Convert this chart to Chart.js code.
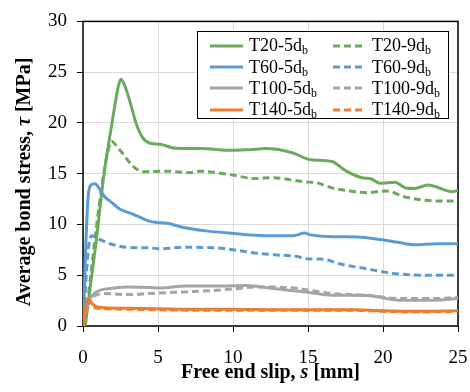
<!DOCTYPE html>
<html>
<head>
<meta charset="utf-8">
<script src="https://cdn.jsdelivr.net/npm/chart.js@4.4.1/dist/chart.umd.min.js"></script>
<style>
    html, body { margin: 0; padding: 0; background: #fff; }
    #wrap { position: relative; width: 470px; height: 392px; }
    #legend {
        position: absolute; left: 197px; top: 31px; width: 252px; height: 88px;
        border: 1.5px solid #000; background: #fff;
        font-family: 'Liberation Serif', 'Times New Roman', serif; font-size: 18px; color: #000;
        display: grid; grid-template-columns: 123px 120px; grid-auto-rows: 21.4px;
        padding: 3px 0 0 12px; box-sizing: border-box;
    }
    #legend .item { display: flex; align-items: center; white-space: nowrap; }
    #legend svg { margin-right: 6px; }
    #legend sub { font-size: 12px; vertical-align: -3px; line-height: 0; }
</style>
</head>
<body>
<div id="wrap">
    <canvas id="bond-chart" width="470" height="392"></canvas>
    <div id="legend"></div>
</div>
<script>
// 시리즈 이름
var seriesNames = ['T20-5db', 'T20-9db', 'T60-5db', 'T60-9db', 'T100-5db', 'T100-9db', 'T140-5db', 'T140-9db'];

// 슬립 s [mm] / 부착응력 tau [MPa]
var t20_5_s   = [0.15, 0.5, 0.9, 1.36, 1.8, 2.1, 2.35, 2.53, 2.75, 3.13, 3.58, 4.0, 4.47, 5.13, 6.2, 7.8, 10, 11.1, 12.2, 14, 15.1, 16.6, 17.5, 18.6, 19.2, 19.8, 20.8, 21.5, 22.1, 23.0, 23.4, 24.6, 25];
var t20_5_tau = [0, 4.0, 8.6, 14.5, 18.8, 21.5, 23.6, 24.3, 23.8, 22.1, 19.8, 18.5, 18.0, 17.9, 17.5, 17.47, 17.3, 17.37, 17.47, 17.04, 16.4, 16.2, 15.3, 14.6, 14.5, 14.05, 14.17, 13.6, 13.55, 13.88, 13.78, 13.23, 13.36];

var t20_9_s   = [0.1, 0.5, 0.9, 1.24, 1.6, 1.91, 2.2, 2.69, 3.36, 4.0, 5.6, 7.1, 7.8, 8.9, 10, 11.4, 12.7, 14, 15, 15.6, 16.6, 17.8, 18.9, 20.2, 21.5, 22.8, 23.9, 25];
var t20_9_tau = [0, 4.8, 9.8, 13.6, 16.8, 18.2, 17.8, 16.9, 15.7, 15.2, 15.25, 15.1, 15.25, 15.1, 14.86, 14.53, 14.6, 14.37, 14.17, 14.1, 13.6, 13.3, 13.13, 13.3, 12.7, 12.38, 12.3, 12.3];

var t60_5_s   = [0.0, 0.1, 0.2, 0.36, 0.55, 0.8, 1.1, 1.4, 1.8, 2.47, 3.36, 4.47, 4.9, 5.6, 6.7, 8.5, 10, 12.2, 14, 14.8, 15.1, 16.6, 18.3, 19.9, 21, 22.1, 23.6, 25];
var t60_5_tau = [0, 4.0, 8.5, 13.0, 13.9, 14.0, 13.5, 12.8, 12.3, 11.5, 11.0, 10.3, 10.2, 10.13, 9.7, 9.32, 9.12, 8.9, 8.9, 9.15, 9.0, 8.8, 8.77, 8.5, 8.24, 8.0, 8.1, 8.1];

var t60_9_s   = [0, 0.15, 0.35, 0.58, 0.9, 1.3, 1.8, 2.9, 4.47, 5.13, 6.7, 8.9, 10, 11.6, 12.9, 14.2, 15.1, 15.8, 17.3, 18.9, 20.2, 21.7, 23.2, 25];
var t60_9_tau = [0, 3.5, 7.5, 8.9, 8.7, 8.4, 8.1, 7.75, 7.69, 7.6, 7.75, 7.69, 7.5, 7.17, 7.0, 6.87, 6.6, 6.6, 6.06, 5.64, 5.28, 5.05, 5.0, 5.0];

var t100_5_s   = [0, 0.2, 0.4, 0.9, 1.8, 2.9, 4.47, 5.1, 6.9, 8.9, 10.9, 12.4, 13.7, 15.1, 16.6, 18.9, 21.1, 23.3, 25];
var t100_5_tau = [0, 1.5, 2.5, 3.35, 3.7, 3.85, 3.78, 3.75, 3.94, 3.94, 4.0, 3.75, 3.52, 3.3, 3.03, 3.0, 2.54, 2.54, 2.7];

var t100_9_s   = [0, 0.2, 0.4, 0.8, 1.35, 2.9, 4.47, 6.7, 8.9, 10.2, 11.7, 13.7, 15.0, 16.6, 18.9, 21.1, 23.3, 25];
var t100_9_tau = [0, 1.5, 2.6, 3.0, 3.2, 3.1, 3.2, 3.36, 3.52, 3.68, 3.85, 3.78, 3.55, 3.2, 3.03, 2.7, 2.7, 2.8];

var t140_5_s   = [0, 0.15, 0.35, 0.6, 0.9, 1.5, 3, 5, 8, 10, 13, 15, 18, 20, 22, 25];
var t140_5_tau = [0, 1.5, 2.7, 2.2, 1.9, 1.8, 1.75, 1.7, 1.65, 1.65, 1.6, 1.6, 1.6, 1.5, 1.45, 1.5];

var t140_9_s   = [0, 0.1, 0.3, 0.5, 0.8, 1.5, 3, 5, 8, 10, 13, 15, 18, 20, 22, 25];
var t140_9_tau = [0, 1.0, 2.4, 2.2, 1.8, 1.7, 1.65, 1.6, 1.55, 1.55, 1.55, 1.55, 1.55, 1.45, 1.4, 1.45];

// 축 눈금
var xTicks = [0, 5, 10, 15, 20, 25];
var yTicks = [0, 5, 10, 15, 20, 25, 30];

var FONT = "'Liberation Serif', 'Times New Roman', serif";
var colors = ['#6AAA5C', '#6AAA5C', '#5B9BD5', '#5B9BD5', '#A5A5A5', '#A5A5A5', '#ED7D31', '#ED7D31'];
var seriesS = [t20_5_s, t20_9_s, t60_5_s, t60_9_s, t100_5_s, t100_9_s, t140_5_s, t140_9_s];
var seriesTau = [t20_5_tau, t20_9_tau, t60_5_tau, t60_9_tau, t100_5_tau, t100_9_tau, t140_5_tau, t140_9_tau];

function toPoints(xs, ys) {
    return xs.map(function(x, i) { return { x: x, y: ys[i] }; });
}

var datasets = seriesNames.map(function(name, i) {
    var dashed = i % 2 === 1;
    return {
        label: name,
        data: toPoints(seriesS[i], seriesTau[i]),
        showLine: true,
        borderColor: colors[i],
        backgroundColor: colors[i],
        borderWidth: 3,
        borderDash: dashed ? [7, 4] : [],
        pointRadius: 0,
        cubicInterpolationMode: 'monotone',
        order: 8 - i
    };
});

// 축 제목 (기울임꼴 기호 포함)
function drawParts(ctx, parts, cx, y) {
    var total = 0;
    parts.forEach(function(p) {
        ctx.font = p[1] + ' 20px ' + FONT;
        total += ctx.measureText(p[0]).width;
    });
    var x = cx - total / 2;
    ctx.textAlign = 'left';
    parts.forEach(function(p) {
        ctx.font = p[1] + ' 20px ' + FONT;
        ctx.fillText(p[0], x, y);
        x += ctx.measureText(p[0]).width;
    });
}

var axisTitles = {
    id: 'axisTitles',
    afterDraw: function(chart) {
        var ctx = chart.ctx, a = chart.chartArea;
        ctx.save();
        ctx.fillStyle = '#000';
        ctx.textBaseline = 'alphabetic';
        drawParts(ctx, [['Free end slip, ', 'bold'], ['s', 'italic bold'], [' [mm]', 'bold']], (a.left + a.right) / 2, 378);
        ctx.translate(30, 182);
        ctx.rotate(-Math.PI / 2);
        drawParts(ctx, [['Average bond stress, ', 'bold'], ['\u03C4', 'italic bold'], [' [MPa]', 'bold']], 0, 0);
        ctx.restore();
    }
};

// 플롯 테두리
var plotBorder = {
    id: 'plotBorder',
    beforeDatasetsDraw: function(chart) {
        var ctx = chart.ctx, a = chart.chartArea;
        ctx.save();
        ctx.strokeStyle = '#000';
        ctx.lineWidth = 1.5;
        ctx.strokeRect(a.left, a.top, a.right - a.left, a.bottom - a.top);
        ctx.restore();
    }
};

// HTML 범례 (아래첨자 b)
var htmlLegend = {
    id: 'htmlLegend',
    afterUpdate: function(chart) {
        var box = document.getElementById('legend');
        box.innerHTML = '';
        chart.data.datasets.forEach(function(ds) {
            var item = document.createElement('div');
            item.className = 'item';
            var dash = ds.borderDash.length ? ' stroke-dasharray="7 4"' : '';
            item.innerHTML = '<svg width="33" height="6"><line x1="0" y1="3" x2="33" y2="3" stroke="' +
                ds.borderColor + '" stroke-width="3"' + dash + '/></svg>' +
                '<span>' + ds.label.replace(/db$/, 'd<sub>b</sub>') + '</span>';
            box.appendChild(item);
        });
    }
};

new Chart(document.getElementById('bond-chart'), {
    type: 'scatter',
    data: { datasets: datasets },
    options: {
        responsive: false,
        animation: false,
        layout: { padding: { top: 19, right: 12, left: 0, bottom: 0 } },
        plugins: {
            legend: { display: false },
            tooltip: { enabled: false }
        },
        scales: {
            x: {
                type: 'linear',
                min: 0,
                max: 25,
                afterFit: function(scale) { scale.height = 66; },
                afterBuildTicks: function(scale) {
                    scale.ticks = xTicks.map(function(v) { return { value: v }; });
                },
                grid: { color: '#D9D9D9', lineWidth: 1, tickColor: '#000', tickLength: 6 },
                border: { display: false },
                // padding 은 좌우 여백에도 더해지므로 0, 대신 lineHeight 로 라벨을 아래로
                ticks: { color: '#000', padding: 0, maxRotation: 0, minRotation: 0, font: { family: FONT, size: 19, lineHeight: 2.7 } }
            },
            y: {
                min: 0,
                max: 30,
                afterFit: function(scale) { scale.width = 83; },
                afterBuildTicks: function(scale) {
                    scale.ticks = yTicks.map(function(v) { return { value: v }; });
                },
                grid: { color: '#D9D9D9', lineWidth: 1, tickColor: '#000', tickLength: 6 },
                border: { display: false },
                ticks: { color: '#000', padding: 10, font: { family: FONT, size: 19 } }
            }
        }
    },
    plugins: [plotBorder, axisTitles, htmlLegend]
});
</script>
</body>
</html>
